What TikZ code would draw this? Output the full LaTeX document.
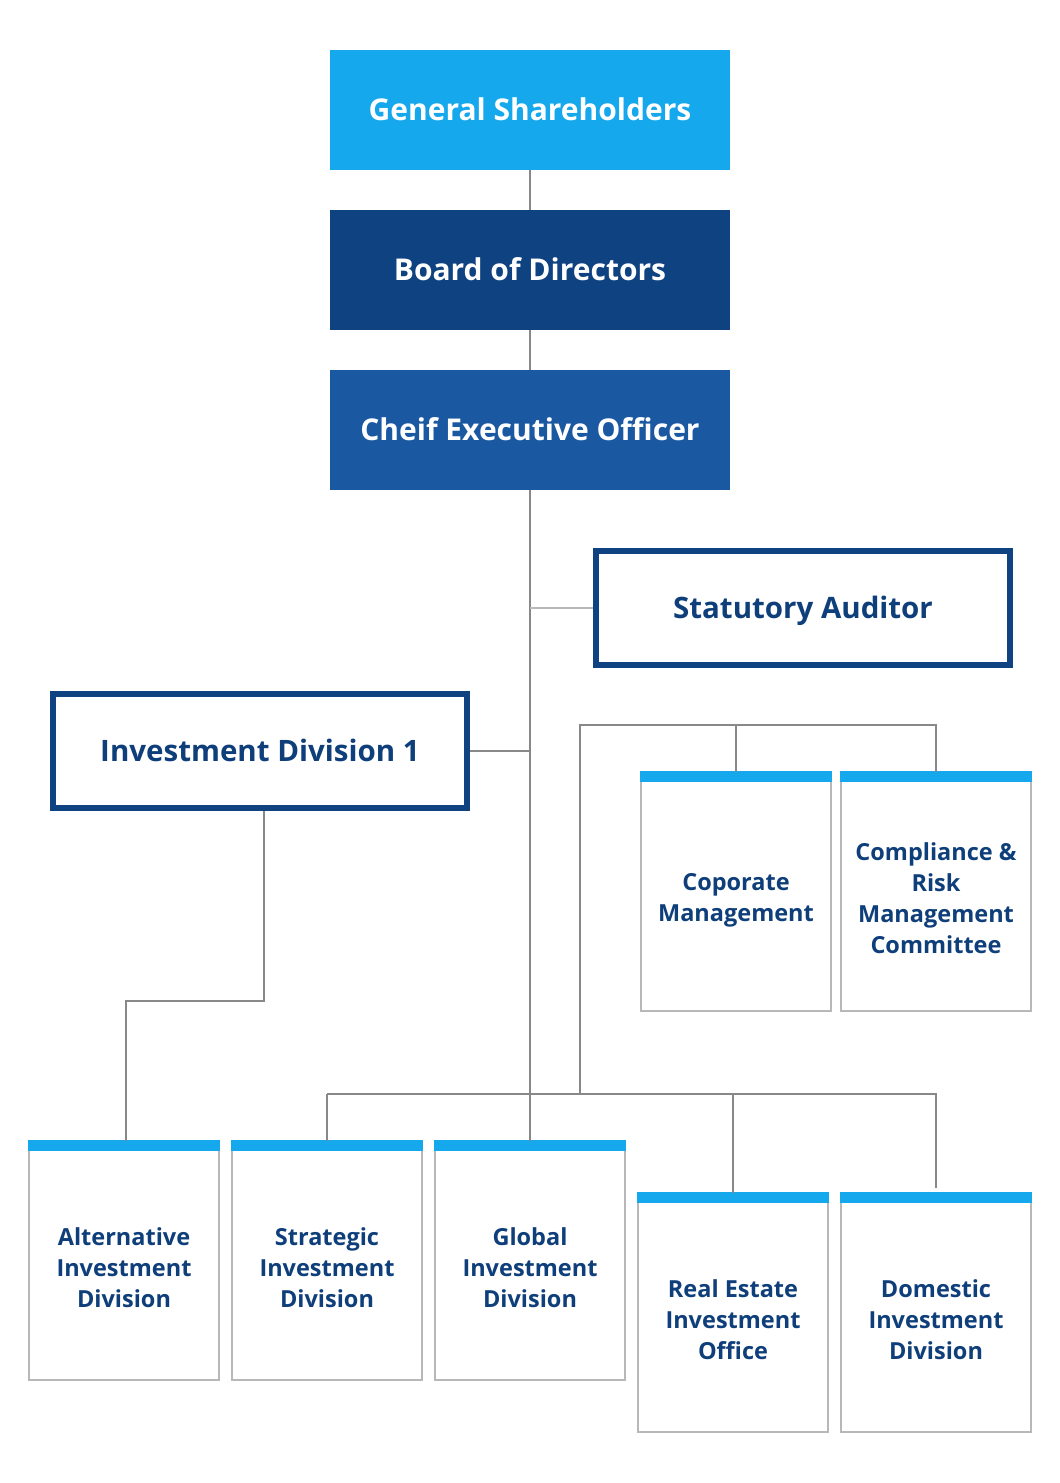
\documentclass[tikz,border=0pt]{standalone}
\usepackage{fontspec}
\setmainfont{Open Sans}
\definecolor{skyb}{HTML}{15A8EC}
\definecolor{navy}{HTML}{0F4280}
\definecolor{midb}{HTML}{1A58A2}
\definecolor{txtb}{HTML}{0F3F7A}
\definecolor{lineg}{HTML}{888888}
\definecolor{boxg}{HTML}{B8B8B8}
\begin{document}
\begin{tikzpicture}[x=1pt,y=-1pt,
  topbox/.style={minimum width=400pt,minimum height=120pt,inner sep=0pt,text height=21.5pt,text depth=0pt,text=white,font=\fontsize{30}{34}\selectfont\bfseries},
  framebox/.style={draw=navy,line width=6pt,fill=white,minimum width=414pt,minimum height=114pt,inner sep=0pt,text height=21pt,text depth=0pt,text=txtb,font=\fontsize{29.5}{34}\selectfont\bfseries},
  unitbox/.style={draw=boxg,line width=1.2pt,fill=white,minimum width=190pt,minimum height=239pt,inner sep=0pt},
  utext/.style={inner sep=0pt,text=txtb,align=center,font=\fontsize{23.5}{31}\selectfont\bfseries,yshift=-7pt},
  conn/.style={draw=lineg,line width=1.2pt},
  connl/.style={draw=boxg,line width=1.5pt}]
\useasboundingbox (0,0) rectangle (1060,1483);
\fill[white] (0,0) rectangle (1060,1483);
% top hierarchy
\node[topbox,fill=skyb] (gs) at (530,110) {General Shareholders};
\node[topbox,fill=navy] (bod) at (530,270) {Board of Directors};
\node[topbox,fill=midb] (ceo) at (530,430) {Cheif Executive Officer};
\node[framebox] (sa) at (803,608) {Statutory Auditor};
\node[framebox] (id1) at (260,751) {Investment Division 1};
% unit boxes
\node[unitbox,label={[utext,yshift=-2pt]center:{Coporate\\Management}}] (cm) at (736,891.5) {};
\node[unitbox,label={[utext]center:{Compliance \&\\Risk\\Management\\Committee}}] (cr) at (936,891.5) {};
\node[unitbox,label={[utext]center:{Alternative\\Investment\\Division}}] (alt) at (124,1260.5) {};
\node[unitbox,label={[utext]center:{Strategic\\Investment\\Division}}] (str) at (327,1260.5) {};
\node[unitbox,label={[utext]center:{Global\\Investment\\Division}}] (glo) at (530,1260.5) {};
\node[unitbox,label={[utext]center:{Real Estate\\Investment\\Office}}] (rea) at (733,1312.5) {};
\node[unitbox,label={[utext]center:{Domestic\\Investment\\Division}}] (dom) at (936,1312.5) {};
\foreach \n in {cm,cr,alt,str,glo,rea,dom}{
  \fill[skyb] ([xshift=-0.6pt,yshift=0.6pt]\n.north west) rectangle ([xshift=0.6pt,yshift=-11pt]\n.north east);
}
% coordinates
\coordinate (jb) at (530,1094);
\coordinate (jsa) at (530,608);
\coordinate (bl) at (580,1094);
\coordinate (bt) at (580,725);
\coordinate (btr) at (936,725);
\coordinate (btm) at (736,725);
\coordinate (i1) at (264,1001);
\coordinate (i2) at (126,1001);
\coordinate (bbl) at (327,1094);
\coordinate (bbr) at (936,1094);
\coordinate (bbm) at (733,1094);
\coordinate (domend) at (936,1188);
% connectors
\path[conn] (gs.south) -- (bod.north);
\path[conn] (bod.south) -- (ceo.north);
\path[conn] (ceo.south) -- (jb);
\path[connl] (jsa) -- (sa.west);
\path[conn] (id1.east) -- (id1.east -| jb);
\path[conn] (bl) -- (bt) -- (btr) -- ([yshift=-0.6pt]cr.north);
\path[conn] (btm) -- ([yshift=-0.6pt]cm.north);
\path[conn] ([xshift=4pt]id1.south) -- (i1) -- (i2) -- ([xshift=2pt,yshift=-0.6pt]alt.north);
\path[conn] (bbl) -- (bbr) -- (domend);
\path[conn] (bbl) -- ([yshift=-0.6pt]str.north);
\path[conn] (jb) -- ([yshift=-0.6pt]glo.north);
\path[conn] (bbm) -- ([yshift=-0.6pt]rea.north);
\end{tikzpicture}
\end{document}
